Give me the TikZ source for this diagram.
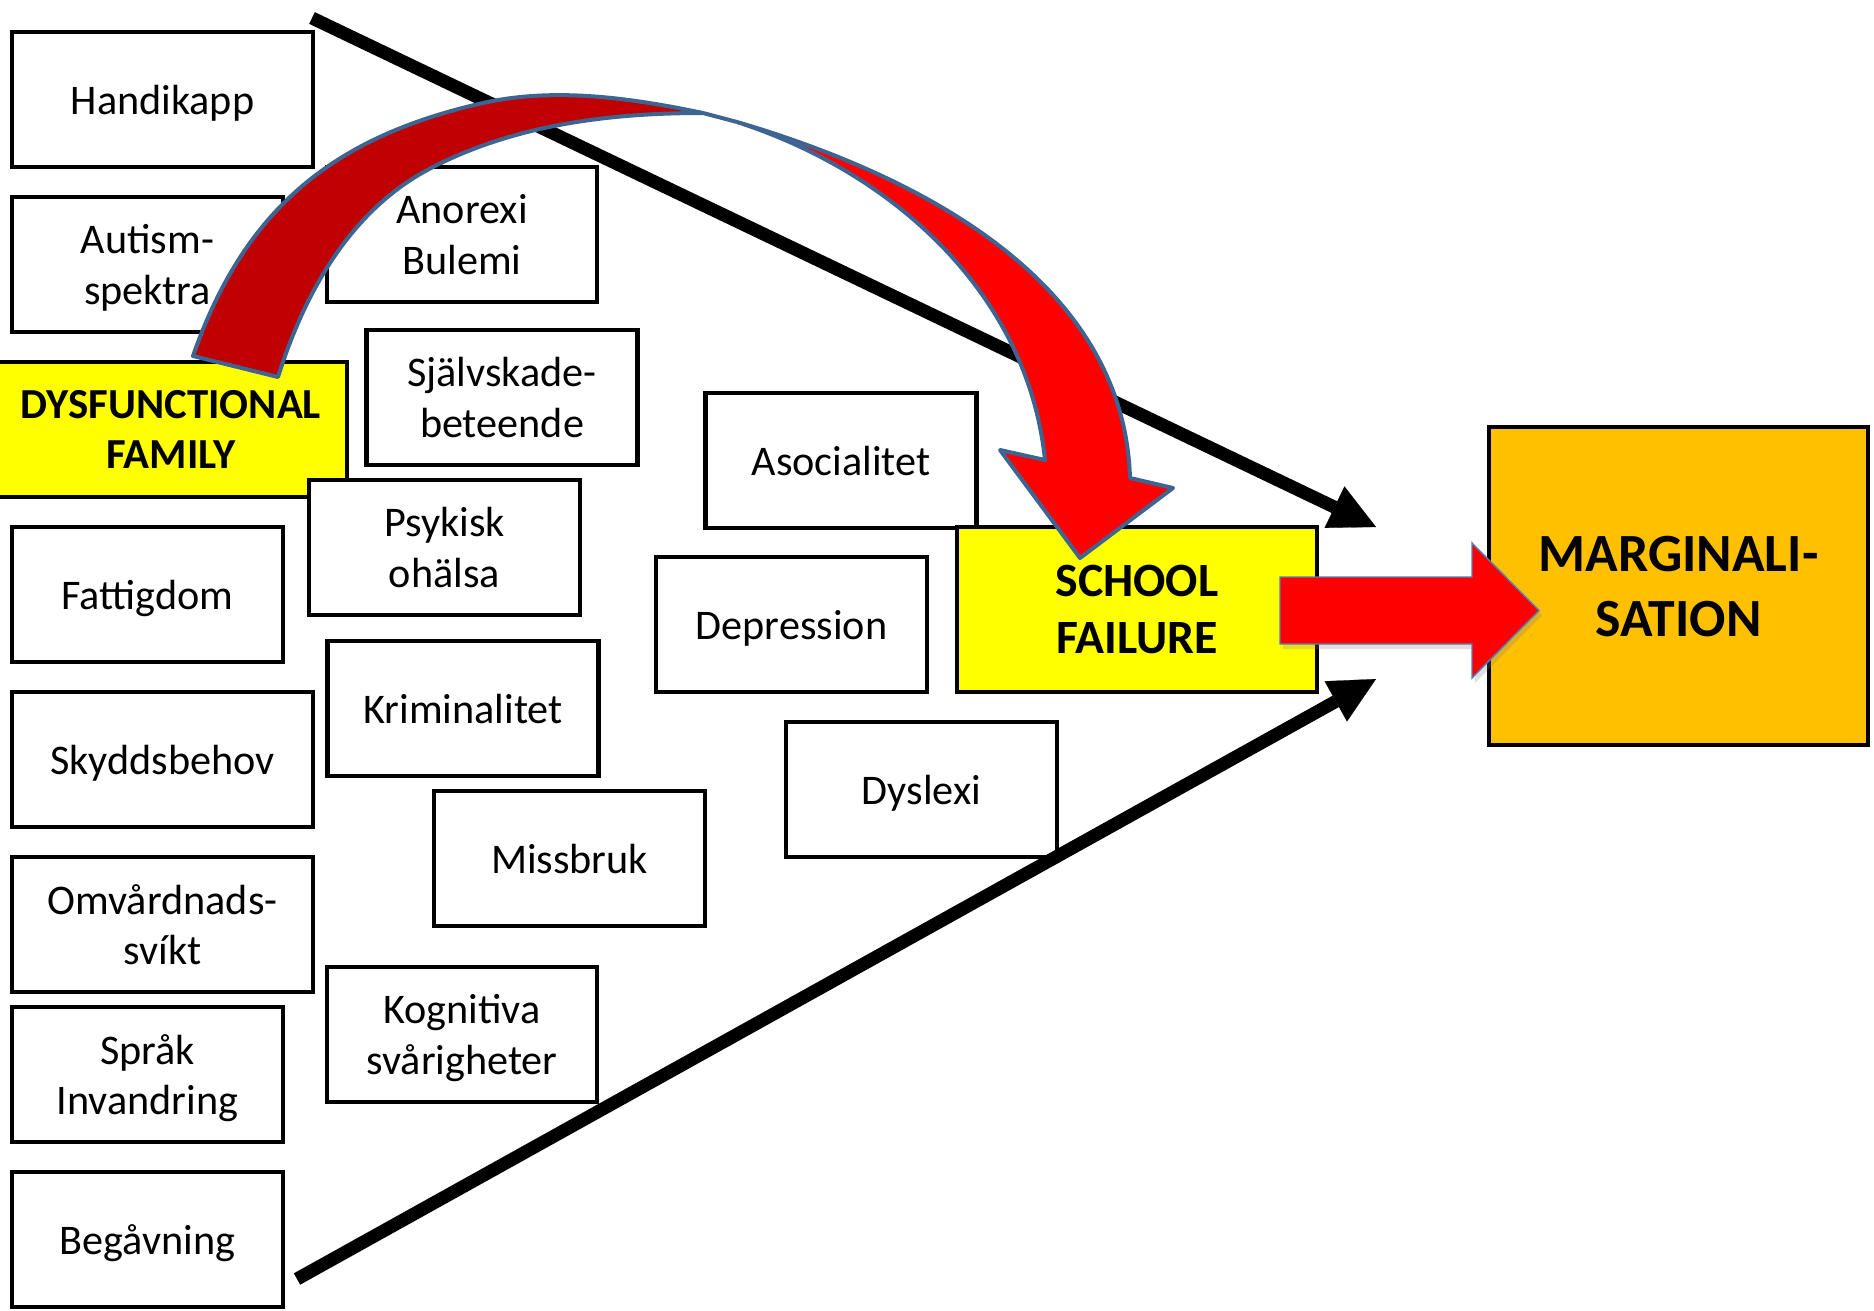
\documentclass[tikz,border=0pt]{standalone}
\usepackage{fontspec}
\setmainfont{Carlito}
\usetikzlibrary{arrows.meta,shadows}
\definecolor{syellow}{HTML}{FFFF00}
\definecolor{sorange}{HTML}{FFC000}
\definecolor{sred}{HTML}{FF0000}
\definecolor{sdark}{HTML}{C00000}
\definecolor{sblue}{HTML}{3E6491}
\definecolor{slblue}{HTML}{4F81BD}
\begin{document}
\begin{tikzpicture}[x=0.5pt,y=-0.5pt,
  box/.style={draw=black, line width=2.2pt, fill=white, align=center, inner sep=0pt,
    text depth=0pt,
    font=\fontsize{21.1}{25.3}\selectfont, minimum width=135.5pt, minimum height=67.5pt},
  widebox/.style={box, minimum width=150.5pt},
  keybox/.style={box, fill=syellow, text depth=-2.4pt, font=\fontsize{21.4}{25}\selectfont\bfseries},
  flow/.style={line width=6.5pt, -{Triangle[length=23pt,width=23pt,line width=0.1pt]}},
  ribbon/.style={draw=sblue, line width=2pt, line join=round},
]
\clip (0,0) rectangle (1874,1311);
\fill[white] (0,0) rectangle (1874,1311);

% left column
\node[widebox] (handikapp) at (162.5,99.5) {Handikapp};
\node[box] (autism) at (147.5,264.5) {Autism-\\spektra};
\node[keybox, minimum width=176pt] (dys) at (171,429.5) {DYSFUNCTIONAL\\FAMILY};
\node[box] (fattigdom) at (147.5,594.5) {Fattigdom};
\node[widebox] (skydd) at (162.5,759.5) {Skyddsbehov};
\node[widebox] (omv) at (162.5,924.5) {Omvårdnads-\\svíkt};
\node[box] (sprak) at (147.5,1074.5) {Språk\\Invandring};
\node[box] (begavning) at (147.5,1239.5) {Begåvning};

% middle column
\node[box, minimum width=135pt] (anorexi) at (462,234.5) {Anorexi\\Bulemi};
\node[box] (sjalv) at (502,397.5) {Självskade-\\beteende};
\node[box] (psykisk) at (444.5,547.5) {Psykisk\\ohälsa};
\node[box] (krim) at (463,708.5) {Kriminalitet};
\node[box] (missbruk) at (569.5,858.5) {Missbruk};
\node[box, minimum width=135pt] (kogn) at (462,1034.5) {Kognitiva\\svårigheter};
\node[box] (asoc) at (841,460.5) {Asocialitet};
\node[box] (depr) at (791.5,624.5) {Depression};
\node[box] (dyslexi) at (921.5,789.5) {Dyslexi};

% outcome boxes
\node[keybox, font=\fontsize{23.9}{28.7}\selectfont\bfseries, minimum width=180pt, minimum height=82.5pt] (school) at (1137,609.5) {SCHOOL\\FAILURE};
\node[box, fill=sorange, font=\fontsize{26.9}{32.5}\selectfont\bfseries, minimum width=189.5pt, minimum height=159pt] (marg) at (1678.5,586) {MARGINALI-\\SATION};

% black funnel arrows
\coordinate (ta) at (312,18);
\coordinate (tb) at (1376,527);
\coordinate (ba) at (297,1279);
\coordinate (bb) at (1376,679);
\draw[flow] (ta) -- (tb);
\draw[flow] (ba) -- (bb);

% curved red ribbon arrow
\coordinate (O0) at (193,356);
\coordinate (I0) at (278,377);
\coordinate (P1) at (703,113);
\coordinate (P2) at (737,122);
\fill[sdark] (O0) .. controls (244,210) and (332,137) .. (483,103)
  .. controls (555,87) and (631,98) .. (P1)
  .. controls (610,113) and (516,124.5) .. (433,167)
  .. controls (352,208) and (305,291) .. (I0) -- cycle;
\draw[ribbon] (O0) .. controls (244,210) and (332,137) .. (483,103)
  .. controls (555,87) and (631,98) .. (P1)
  .. controls (610,113) and (516,124.5) .. (433,167)
  .. controls (352,208) and (305,291) .. (I0) -- cycle;
\draw[ribbon] (P1) -- (P2);
\filldraw[ribbon, fill=sred] (P2) .. controls (924,177) and (1124,283) .. (1130,478)
  -- (1173,488) -- (1080,558) -- (1000,450) -- (1045,460)
  .. controls (1028,295) and (895,173) .. (P2) -- cycle;

% straight red arrow
\filldraw[fill=sred, draw=slblue, line width=0.7pt,
  drop shadow={shadow xshift=1.5pt, shadow yshift=-2.5pt, opacity=0.25}]
  (1280,577) -- (1472,577) -- (1472,543) -- (1539,610.5) -- (1472,678) -- (1472,644) -- (1280,644) -- cycle;
\end{tikzpicture}
\end{document}
